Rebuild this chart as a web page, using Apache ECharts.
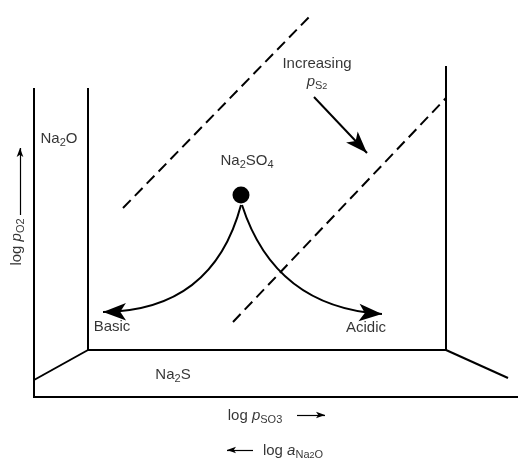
<!DOCTYPE html>
<html>
<head>
<meta charset="utf-8">
<script src="https://cdn.jsdelivr.net/npm/echarts@6/dist/echarts.min.js"></script>
<style>html,body{margin:0;padding:0;background:#fff}#c{width:525px;height:460px}</style>
</head>
<body>
<div id="c"></div>
<script>
// Schematic units: origin at the corner of the diagram (log pSO3 to the right, log pO2 up)
const frameLines = [
  [[0, 309], [0, 0], [484, 0]],
  [[54, 309], [54, 47], [412, 47], [412, 331]],
  [[0, 17], [54, 47]],
  [[412, 47], [474, 19]]
];
const dashedLines = [
  [[89, 189], [278, 383]],
  [[199, 75], [412, 299]]
];
const increasingArrow = [[[280, 300], [333, 244]]];
const basicCurve = [[207, 192], [69, 85]];
const acidicCurve = [[208, 192], [348, 83]];
const axisArrows = [
  [[263, -18], [291, -18]],
  [[219, -53], [193, -53]],
  [[-14, 182], [-14, 249]]
];
const na2so4Point = [[207, 202]];
const labelTexts = [
  '{n|Na}{s|2}{n|O}',
  '{n|Na}{s|2}{n|SO}{s|4}',
  '{n|Increasing}',
  '{i|p}{s|S}{ss|2}',
  '{n|Basic}',
  '{n|Acidic}',
  '{n|Na}{s|2}{n|S}',
  '{n|log }{i|p}{s|SO}{s2|3}',
  '{n|log }{i|a}{s|Na}{ss|2}{s|O}',
  '{n|log }{i|p}{s|O}{s2|2}'
];
const labelAnchors = [
  [25, 258], [213, 236], [283, 333], [283, 315], [78, 70],
  [332, 69], [139, 22], [221, -19], [259, -54], [-17, 155]
];
const labelRotations = [0, 0, 0, 0, 0, 0, 0, 0, 0, 90];

const FONT = 'Liberation Sans, Arial, Helvetica, sans-serif';
const rich = {
  n: {fontSize: 15, lineHeight: 18, fontFamily: FONT, color: '#000'},
  i: {fontSize: 15, lineHeight: 18, fontFamily: FONT, fontStyle: 'italic', color: '#000'},
  s: {fontSize: 11, lineHeight: 11, fontFamily: FONT, verticalAlign: 'bottom', color: '#000'},
  s2: {fontSize: 11, lineHeight: 11, fontFamily: FONT, verticalAlign: 'bottom', color: '#000'},
  ss: {fontSize: 9, lineHeight: 9, fontFamily: FONT, verticalAlign: 'bottom', color: '#000'}
};

const chart = echarts.init(document.getElementById('c'), null, {renderer: 'canvas'});
const black = '#000';
chart.setOption({
  animation: false,
  backgroundColor: '#fff',
  grid: {left: 0, right: 0, top: 0, bottom: 0},
  xAxis: {type: 'value', min: -34, max: 491, show: false},
  yAxis: {type: 'value', min: -63, max: 397, show: false},
  series: [
    {
      type: 'lines', coordinateSystem: 'cartesian2d', polyline: true, silent: true,
      symbol: 'none',
      lineStyle: {color: black, width: 2, opacity: 1},
      data: frameLines.map(c => ({coords: c}))
    },
    {
      type: 'lines', coordinateSystem: 'cartesian2d', silent: true,
      symbol: 'none',
      lineStyle: {color: black, width: 2, type: [11, 6], opacity: 1},
      data: dashedLines.map(c => ({coords: c}))
    },
    {
      type: 'lines', coordinateSystem: 'cartesian2d', silent: true,
      symbol: ['none', 'arrow'], symbolSize: [1, [12, 22]],
      lineStyle: {color: black, width: 2, opacity: 1},
      data: increasingArrow.map(c => ({coords: c}))
    },
    {
      type: 'lines', coordinateSystem: 'cartesian2d', silent: true,
      symbol: ['none', 'arrow'], symbolSize: [1, [13, 23]],
      lineStyle: {color: black, width: 2, opacity: 1},
      data: [
        {coords: basicCurve, lineStyle: {curveness: 0.38}},
        {coords: acidicCurve, lineStyle: {curveness: -0.34}}
      ]
    },
    {
      type: 'lines', coordinateSystem: 'cartesian2d', silent: true,
      symbol: ['none', 'arrow'], symbolSize: [1, [5, 9]],
      lineStyle: {color: black, width: 1.2, opacity: 1},
      data: axisArrows.map(c => ({coords: c}))
    },
    {
      type: 'scatter', silent: true, symbol: 'circle', symbolSize: 17,
      itemStyle: {color: black, opacity: 1},
      data: na2so4Point
    },
    {
      type: 'scatter', silent: true, symbolSize: 1,
      itemStyle: {color: 'rgba(0,0,0,0)'},
      label: {show: true, position: 'inside', align: 'center', verticalAlign: 'middle',
        fontFamily: FONT, fontSize: 15, color: black, rich: rich},
      data: labelAnchors.map((p, k) => ({
        value: p,
        label: {formatter: labelTexts[k], rotate: labelRotations[k]}
      }))
    }
  ]
});
</script>
</body>
</html>
